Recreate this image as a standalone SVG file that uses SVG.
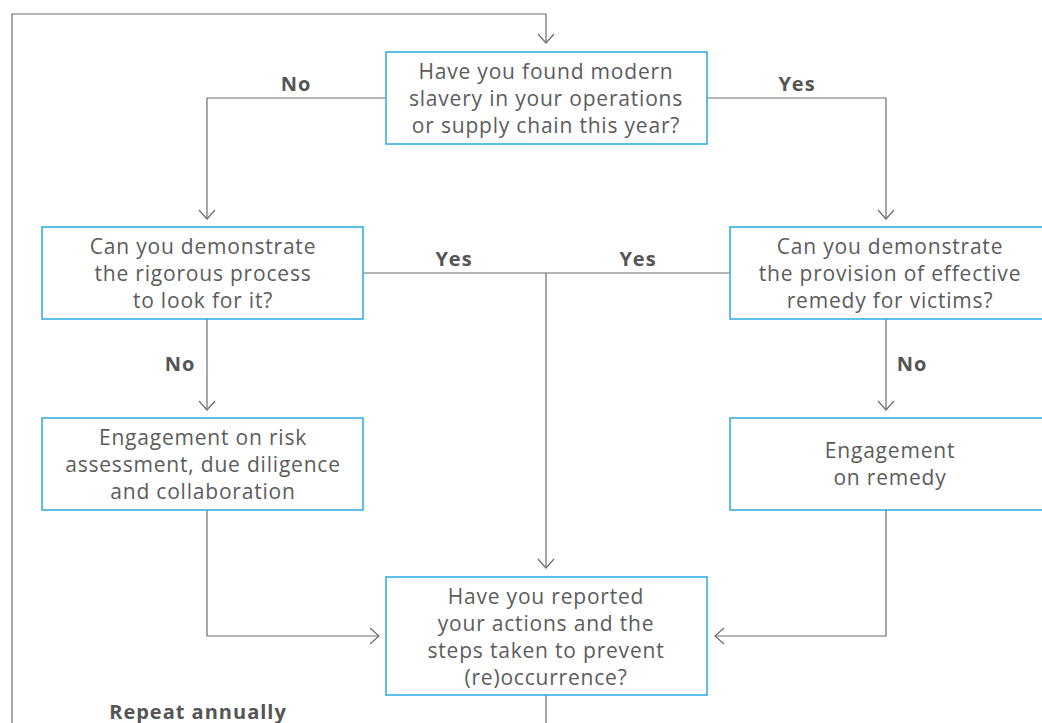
<svg xmlns="http://www.w3.org/2000/svg" width="1042" height="723" viewBox="0 0 1042 723">
<style>
.box{fill:#fff;stroke:#29abe2;stroke-width:1.5}
.t{font-family:"Open Sans","Liberation Sans",sans-serif;font-size:21px;letter-spacing:0.8px;fill:#5c5c5c;text-anchor:middle}
.lbl{font-family:"Open Sans","Liberation Sans",sans-serif;font-size:20px;letter-spacing:1px;font-weight:bold;fill:#555;text-anchor:middle}
.c{fill:none;stroke:#6d6d6d;stroke-width:1.2}
</style>
<defs>
<marker id="ah" markerUnits="userSpaceOnUse" markerWidth="20" markerHeight="20" viewBox="-10 -10 20 20" refX="0" refY="0" orient="auto">
<path d="M-9,-8 L0,0 L-9,8" fill="none" stroke="#6d6d6d" stroke-width="1.2"/>
</marker>
</defs>
<g id="connectors">
<path class="c" d="M12,723 V14 H546 V43" marker-end="url(#ah)"/>
<path class="c" d="M386,98 H207 V219" marker-end="url(#ah)"/>
<path class="c" d="M707,98 H886 V219" marker-end="url(#ah)"/>
<path class="c" d="M363,273 H730"/>
<path class="c" d="M546,273 V568" marker-end="url(#ah)"/>
<path class="c" d="M207,319 V410" marker-end="url(#ah)"/>
<path class="c" d="M886,319 V410" marker-end="url(#ah)"/>
<path class="c" d="M207,510 V636 H379" marker-end="url(#ah)"/>
<path class="c" d="M886,510 V636 H715" marker-end="url(#ah)"/>
<path class="c" d="M546,695 V723"/>
</g>
<g id="labels">
<text class="lbl" x="296" y="91">No</text>
<text class="lbl" x="797" y="91">Yes</text>
<text class="lbl" x="454" y="266">Yes</text>
<text class="lbl" x="638" y="266">Yes</text>
<text class="lbl" x="180" y="371">No</text>
<text class="lbl" x="912" y="371">No</text>
<text class="lbl" x="198" y="719">Repeat annually</text>
</g>
<g id="q1">
<rect class="box" x="386" y="52" width="321" height="92"/>
<text class="t" x="546" y="79">Have you found modern</text>
<text class="t" x="546" y="106">slavery in your operations</text>
<text class="t" x="546" y="133">or supply chain this year?</text>
</g>
<g id="q2">
<rect class="box" x="42" y="227" width="321" height="92"/>
<text class="t" x="203" y="254">Can you demonstrate</text>
<text class="t" x="203" y="281">the rigorous process</text>
<text class="t" x="203" y="308">to look for it?</text>
</g>
<g id="q3">
<rect class="box" x="730" y="227" width="321" height="92"/>
<text class="t" x="890" y="254">Can you demonstrate</text>
<text class="t" x="890" y="281">the provision of effective</text>
<text class="t" x="890" y="308">remedy for victims?</text>
</g>
<g id="e1">
<rect class="box" x="42" y="418" width="321" height="92"/>
<text class="t" x="203" y="445">Engagement on risk</text>
<text class="t" x="203" y="472">assessment, due diligence</text>
<text class="t" x="203" y="499">and collaboration</text>
</g>
<g id="e2">
<rect class="box" x="730" y="418" width="321" height="92"/>
<text class="t" x="890" y="458">Engagement</text>
<text class="t" x="890" y="485">on remedy</text>
</g>
<g id="q4">
<rect class="box" x="386" y="577" width="321" height="118"/>
<text class="t" x="546" y="604">Have you reported</text>
<text class="t" x="546" y="631">your actions and the</text>
<text class="t" x="546" y="658">steps taken to prevent</text>
<text class="t" x="546" y="685">(re)occurrence?</text>
</g>
</svg>
